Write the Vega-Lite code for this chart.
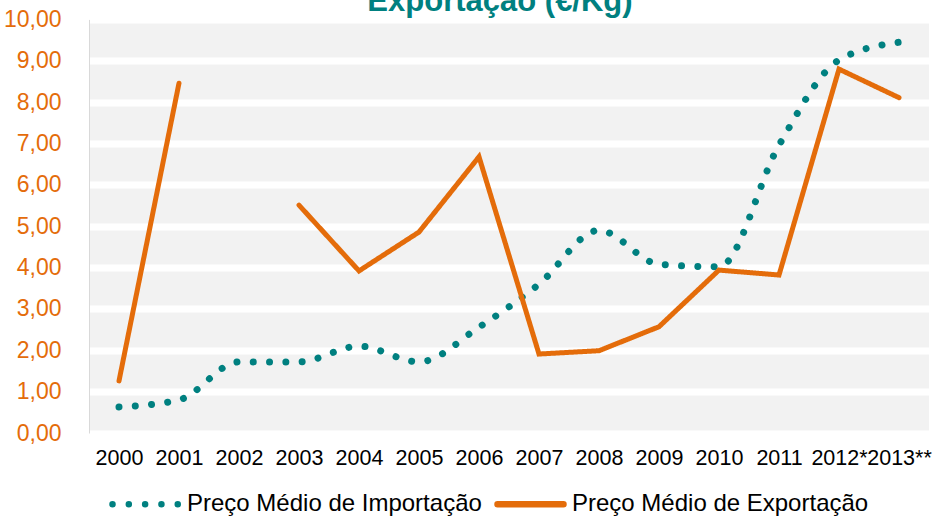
{
  "$schema": "https://vega.github.io/schema/vega-lite/v6.json",
  "width": 840,
  "height": 413.5,
  "autosize": {"type": "none"},
  "padding": {"left": 89, "top": 19.5, "right": 8, "bottom": 90},
  "background": "white",
  "config": {
    "view": {"fill": "#F2F2F2", "stroke": null},
    "font": "Liberation Sans"
  },
  "title": {
    "text": "Exportação (€/Kg)",
    "font": "Liberation Sans",
    "fontSize": 31,
    "fontWeight": "bold",
    "color": "#008080",
    "anchor": "middle",
    "baseline": "alphabetic",
    "offset": -33,
    "dx": -9
  },
  "data": {
    "values": [
      {"ano": "2000", "serie": "Preço Médio de Importação", "valor": 0.63},
      {"ano": "2001", "serie": "Preço Médio de Importação", "valor": 0.80},
      {"ano": "2002", "serie": "Preço Médio de Importação", "valor": 1.72},
      {"ano": "2003", "serie": "Preço Médio de Importação", "valor": 1.72},
      {"ano": "2004", "serie": "Preço Médio de Importação", "valor": 2.10},
      {"ano": "2005", "serie": "Preço Médio de Importação", "valor": 1.72},
      {"ano": "2006", "serie": "Preço Médio de Importação", "valor": 2.56},
      {"ano": "2007", "serie": "Preço Médio de Importação", "valor": 3.60},
      {"ano": "2008", "serie": "Preço Médio de Importação", "valor": 4.90},
      {"ano": "2009", "serie": "Preço Médio de Importação", "valor": 4.08},
      {"ano": "2010", "serie": "Preço Médio de Importação", "valor": 4.02},
      {"ano": "2011", "serie": "Preço Médio de Importação", "valor": 6.96},
      {"ano": "2012*", "serie": "Preço Médio de Importação", "valor": 9.02},
      {"ano": "2013**", "serie": "Preço Médio de Importação", "valor": 9.45},
      {"ano": "2000", "serie": "Preço Médio de Exportação", "valor": 1.26},
      {"ano": "2001", "serie": "Preço Médio de Exportação", "valor": 8.46},
      {"ano": "2002", "serie": "Preço Médio de Exportação", "valor": null},
      {"ano": "2003", "serie": "Preço Médio de Exportação", "valor": 5.51},
      {"ano": "2004", "serie": "Preço Médio de Exportação", "valor": 3.92},
      {"ano": "2005", "serie": "Preço Médio de Exportação", "valor": 4.86},
      {"ano": "2006", "serie": "Preço Médio de Exportação", "valor": 6.68},
      {"ano": "2007", "serie": "Preço Médio de Exportação", "valor": 1.91},
      {"ano": "2008", "serie": "Preço Médio de Exportação", "valor": 1.99},
      {"ano": "2009", "serie": "Preço Médio de Exportação", "valor": 2.57},
      {"ano": "2010", "serie": "Preço Médio de Exportação", "valor": 3.94},
      {"ano": "2011", "serie": "Preço Médio de Exportação", "valor": 3.82},
      {"ano": "2012*", "serie": "Preço Médio de Exportação", "valor": 8.80},
      {"ano": "2013**", "serie": "Preço Médio de Exportação", "valor": 8.11}
    ]
  },
  "encoding": {
    "x": {
      "field": "ano",
      "type": "ordinal",
      "sort": null,
      "scale": {"type": "point", "padding": 0.5},
      "axis": {
        "title": null,
        "domain": false,
        "ticks": false,
        "grid": false,
        "labelAngle": 0,
        "labelFontSize": 21.5,
        "labelColor": "#000000",
        "labelPadding": 14,
        "labelOverlap": false,
        "labelBound": false,
        "labelFlush": false
      }
    },
    "y": {
      "field": "valor",
      "type": "quantitative",
      "scale": {"domain": [0, 10], "nice": false, "zero": true},
      "axis": {
        "title": null,
        "values": [0, 1, 2, 3, 4, 5, 6, 7, 8, 9, 10],
        "labelExpr": "replace(format(datum.value, '.2f'), '.', ',')",
        "labelFontSize": 23,
        "labelColor": "#E46C0A",
        "labelPadding": 28,
        "ticks": false,
        "domain": true,
        "domainColor": "#D9D9D9",
        "domainWidth": 1,
        "grid": true,
        "gridColor": "#FFFFFF",
        "gridWidth": 7,
        "gridOpacity": 1
      }
    },
    "color": {
      "field": "serie",
      "type": "nominal",
      "scale": {
        "domain": ["Preço Médio de Importação", "Preço Médio de Exportação"],
        "range": ["#008080", "#E46C0A"]
      },
      "legend": {
        "title": null,
        "orient": "none",
        "legendX": 20,
        "legendY": 448,
        "direction": "horizontal",
        "columns": 2,
        "padding": 0,
        "symbolType": "stroke",
        "symbolSize": 4356,
        "symbolStrokeWidth": 6.5,
        "labelFontSize": 24,
        "labelColor": "#000000",
        "labelOffset": 5,
        "labelLimit": 400,
        "columnPadding": 2,
        "encode": {"symbols": {"update": {"strokeCap": {"value": "round"}}}}
      }
    },
    "strokeDash": {
      "field": "serie",
      "type": "nominal",
      "scale": {
        "domain": ["Preço Médio de Importação", "Preço Médio de Exportação"],
        "range": [[0.01, 16.3], [1, 0]]
      },
      "legend": null
    }
  },
  "layer": [
    {
      "transform": [{"filter": "datum.serie === 'Preço Médio de Importação'"}],
      "mark": {
        "type": "line",
        "interpolate": "monotone",
        "strokeWidth": 7,
        "strokeCap": "round"
      }
    },
    {
      "transform": [{"filter": "datum.serie === 'Preço Médio de Exportação'"}],
      "mark": {
        "type": "line",
        "strokeWidth": 5,
        "strokeCap": "round",
        "strokeJoin": "miter",
        "invalid": "break-paths-show-domains"
      }
    }
  ]
}
